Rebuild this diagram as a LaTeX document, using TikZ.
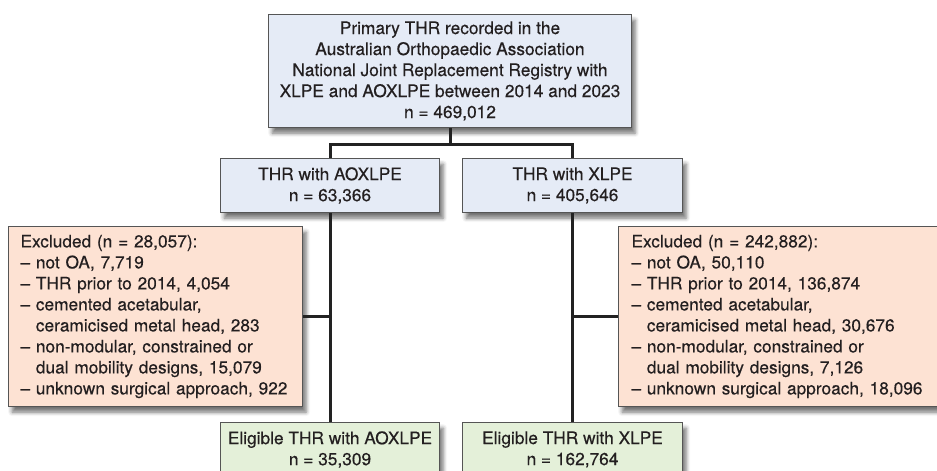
\documentclass[tikz,border=0pt]{standalone}
\usepackage{fontspec}
\setmainfont{TeX Gyre Heros}[FakeBold=0.35]
\usepackage{xcolor}
\usepackage{tikz}
\usetikzlibrary{shadows.blur}
\definecolor{boxline}{HTML}{555555}
\definecolor{linkgray}{HTML}{222222}
\definecolor{inkgray}{HTML}{231F20}
\definecolor{softblue}{HTML}{E5EBF6}
\definecolor{softpeach}{HTML}{FDE2D3}
\definecolor{softgreen}{HTML}{E4F0D9}

\begin{document}
\begin{tikzpicture}[
        x=1pt, y=-1pt,
        font=\fontsize{8.65pt}{10.5pt}\selectfont,
        box/.style={
            draw=boxline,
            line width=0.5pt,
            text=inkgray,
            anchor=north west,
            inner sep=0pt,
            align=center,
            blur shadow={shadow xshift=1.8pt, shadow yshift=-2.8pt,
                shadow blur radius=2pt, shadow opacity=55}
        },
        cohort/.style={box, fill=softblue},
        excluded/.style={box, fill=softpeach, align=left},
        eligible/.style={box, fill=softgreen},
        link/.style={draw=linkgray, line width=1.5pt}
    ]
        \useasboundingbox (0,0) rectangle (468.5,235.5);

        \node[cohort, minimum width=181.5pt, minimum height=56.5pt] (primary) at (134,7)
            {Primary THR recorded in the\\Australian Orthopaedic Association\\National Joint Replacement Registry with\\XLPE and AOXLPE between 2014 and 2023\\n = 469,012};

        \node[cohort, minimum width=109.5pt, minimum height=27pt] (aox) at (110,79) {THR with AOXLPE\\n = 63,366};
        \node[cohort, minimum width=110pt, minimum height=27pt] (xlpe) at (231,79) {THR with XLPE\\n = 405,646};

        \node[excluded, text width=135pt, inner xsep=6pt, minimum height=90pt] (exaox) at (4,113)
            {Excluded (n = 28,057):\\
             -- not OA, 7,719\\
             -- THR prior to 2014, 4,054\\
             -- cemented acetabular,\\
             \phantom{-- }ceramicised metal head, 283\\
             -- non-modular, constrained or\\
             \phantom{-- }dual mobility designs, 15,079\\
             -- unknown surgical approach, 922};
        \node[excluded, text width=153pt, inner xsep=6.5pt, minimum height=90pt] (exxlpe) at (309,113)
            {Excluded (n = 242,882):\\
             -- not OA, 50,110\\
             -- THR prior to 2014, 136,874\\
             -- cemented acetabular,\\
             \phantom{-- }ceramicised metal head, 30,676\\
             -- non-modular, constrained or\\
             \phantom{-- }dual mobility designs, 7,126\\
             -- unknown surgical approach, 18,096};

        \node[eligible, minimum width=109.5pt, minimum height=27pt] (eligaox) at (110,211) {Eligible THR with AOXLPE\\n = 35,309};
        \node[eligible, minimum width=110pt, minimum height=27pt] (eligxlpe) at (231,211) {Eligible THR with XLPE\\n = 162,764};

        % connectors
        \draw[link] (primary.south) -- ++(0,8) -| (aox.north);
        \draw[link] (primary.south) -- ++(0,8) -| (xlpe.north);
        \draw[link] (aox.south) -- (eligaox.north);
        \draw[link] (xlpe.south) -- (eligxlpe.north);
        \draw[link] (exaox.east) -- (exaox.east -| aox.south);
        \draw[link] (exxlpe.west) -- (exxlpe.west -| xlpe.south);
    \end{tikzpicture}
\end{document}
